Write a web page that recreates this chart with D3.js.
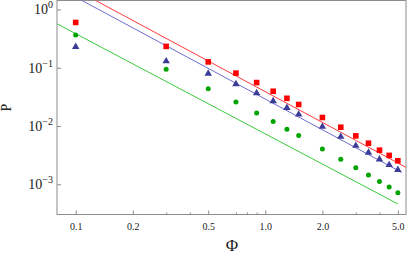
<!DOCTYPE html>
<html>
<head>
<meta charset="utf-8">
<script src="https://cdn.jsdelivr.net/npm/d3@7"></script>
<style>
  body { margin: 0; background: #fff; }
  svg { display: block; }
  text { font-family: "Liberation Serif", "DejaVu Serif", serif; fill: #222; }
</style>
</head>
<body>
<svg id="chart" width="407" height="255"></svg>
<script>
// data
const phi = [0.1, 0.3, 0.5, 0.7, 0.9, 1.1, 1.3, 1.5, 2.0, 2.5, 3.0, 3.5, 4.0, 4.5, 5.0];
const redP = [0.599, 0.2325, 0.126, 0.0808, 0.0557, 0.0395, 0.0299, 0.0234, 0.0140, 0.00953, 0.00677, 0.00507, 0.00385, 0.00313, 0.00253];
const blueP = [0.2325, 0.132, 0.0811, 0.0534, 0.0375, 0.0273, 0.0210, 0.0161, 0.00992, 0.00669, 0.00469, 0.00356, 0.00273, 0.00219, 0.00180];
const greenP = [0.363, 0.0939, 0.0435, 0.0258, 0.0168, 0.0119, 0.00881, 0.00688, 0.00405, 0.00270, 0.00192, 0.00144, 0.00112, 0.000896, 0.000715];

// power-law fits P = a * phi^b, drawn over [from, to]
const fitA = [0.0388, 0.0290, 0.00733];
const fitB = [-1.75, -1.75, -1.72];
const fitRange = [[0.07, 6], [0.07, 5.25], [0.07, 5.0]];

const xMajor = [0.1, 0.2, 0.5, 1.0, 2.0, 5.0];
const xMinor = [0.3, 0.4, 0.7, 0.8, 0.9, 3.0, 4.0];
const yMajor = [1, 0.1, 0.01, 0.001];
const yExp = ["0", "\u22121", "\u22122", "\u22123"];

const W = 407, H = 255;
const mLeft = 57, mRight = 406, mTop = 0.5, mBottom = 214.5;

const svg = d3.select("#chart");

const x = d3.scaleLog().domain([0.0797, 5.52]).range([mLeft, mRight]);
const y = d3.scaleLog().domain([0.000303, 1.426]).range([mBottom, mTop]);

svg.append("clipPath").attr("id", "clip")
    .append("rect")
        .attr("x", mLeft).attr("y", mTop)
        .attr("width", mRight - mLeft).attr("height", mBottom - mTop);

// frame
svg.append("rect")
    .attr("x", mLeft).attr("y", mTop)
    .attr("width", mRight - mLeft).attr("height", mBottom - mTop)
    .attr("fill", "none")
    .attr("stroke", "#8c8c8c")
    .attr("stroke-width", 1);

// x axis ticks (inward)
let xAxis = d3.axisBottom(x).tickValues(xMajor).tickSize(-4).tickPadding(8)
    .tickFormat(d3.format(".1f"));
let gx = svg.append("g").attr("transform", "translate(0," + mBottom + ")").call(xAxis);
gx.select(".domain").remove();
gx.selectAll("line").attr("stroke", "#8c8c8c");
gx.selectAll("text").style("font-size", "10px").attr("fill", "#222").attr("dy", "0.71em");

let gxMinor = svg.append("g").attr("transform", "translate(0," + mBottom + ")")
    .call(d3.axisBottom(x).tickValues(xMinor).tickSize(-2).tickFormat(""));
gxMinor.select(".domain").remove();
gxMinor.selectAll("line").attr("stroke", "#8c8c8c");

// y axis ticks (inward), labels as 10^n
let yAxis = d3.axisLeft(y).tickValues(yMajor).tickSize(-4).tickFormat("");
let gy = svg.append("g").attr("transform", "translate(" + mLeft + ",0)").call(yAxis);
gy.select(".domain").remove();
gy.selectAll("line").attr("stroke", "#8c8c8c");

yMajor.forEach((v, i) => {
    let t = svg.append("text")
        .attr("x", 53)
        .attr("y", y(v) + 5)
        .attr("text-anchor", "end")
        .style("font-size", "14px");
    t.append("tspan").text("10");
    t.append("tspan").attr("dy", -6).style("font-size", "10px").text(yExp[i]);
});

// axis labels
svg.append("text")
    .attr("x", 232).attr("y", 251)
    .attr("text-anchor", "middle")
    .style("font-size", "17px")
    .text("\u03A6");

svg.append("text")
    .attr("transform", "translate(10.5,107.5) rotate(-90)")
    .attr("text-anchor", "middle")
    .style("font-size", "14px")
    .text("P");

// fit lines
const lineColors = ["#ff3b3b", "#6c6cd0", "#3cc83c"];
const plot = svg.append("g").attr("clip-path", "url(#clip)");
fitA.forEach((a, i) => {
    let pts = fitRange[i].map(f => [f, a * Math.pow(f, fitB[i])]);
    plot.append("path")
        .datum(pts)
        .attr("fill", "none")
        .attr("stroke", lineColors[i])
        .attr("stroke-width", 1)
        .attr("d", d3.line().x(d => x(d[0])).y(d => y(d[1])));
});

// markers
const marks = svg.append("g");
marks.selectAll(".sq").data(phi.map((f, i) => [f, redP[i]])).enter()
    .append("rect")
        .attr("x", d => x(d[0]) - 2.8)
        .attr("y", d => y(d[1]) - 2.8)
        .attr("width", 5.6).attr("height", 5.6)
        .attr("fill", "#ff0000");

const tri = d3.symbol().type(d3.symbolTriangle).size(24);
marks.selectAll(".tri").data(phi.map((f, i) => [f, blueP[i]])).enter()
    .append("path")
        .attr("d", tri)
        .attr("transform", d => "translate(" + x(d[0]) + "," + (y(d[1]) + 0.5) + ")")
        .attr("fill", "#3c3c98");

marks.selectAll(".dot").data(phi.map((f, i) => [f, greenP[i]])).enter()
    .append("circle")
        .attr("cx", d => x(d[0]))
        .attr("cy", d => y(d[1]))
        .attr("r", 2.5)
        .attr("fill", "#00a400");
</script>
</body>
</html>
